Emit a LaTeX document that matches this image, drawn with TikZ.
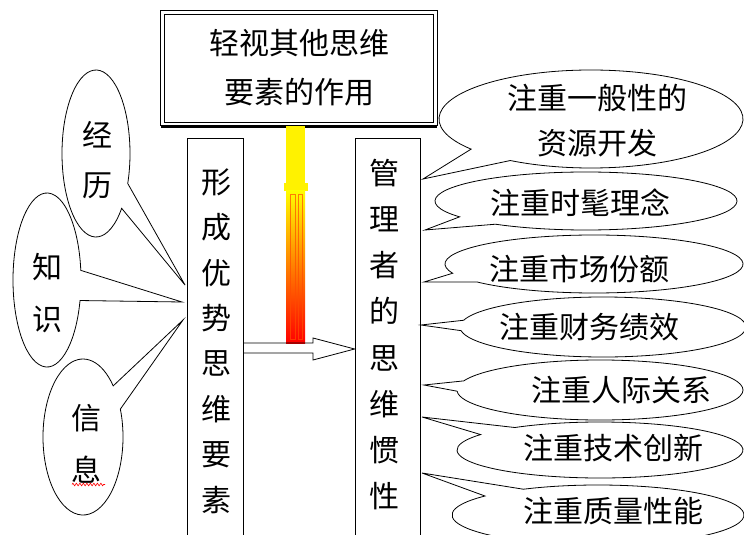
\documentclass[tikz,border=0pt]{standalone}
\usepackage{fontspec}
\newfontfamily\cjk{Noto Sans CJK SC}
\usetikzlibrary{decorations.pathmorphing}
\newcommand\wedgeoval[7]{%
  \pgfmathsetmacro\wdga{atan2((#7-#3)/#5,(#6-#2)/#4)}%
  \pgfmathsetmacro\wdgb{\wdga+10}%
  \pgfmathsetmacro\wdge{\wdga+350}%
  \coordinate (#1) at (#6,#7);
  \draw[oval] (#2,#3) ++(\wdgb:#4 and #5) arc[start angle=\wdgb, end angle=\wdge, x radius=#4, y radius=#5] -- (#1) -- cycle;
}
\begin{document}
\begin{tikzpicture}[x=1pt,y=-1pt,
  every node/.style={inner sep=0pt, font=\cjk\fontsize{30}{36}\selectfont},
  box/.style={draw, line width=0.8pt},
  oval/.style={draw, line width=0.8pt},
  vtextl/.style={align=center, font=\cjk\fontsize{30}{45.4}\selectfont},
  vtextr/.style={align=center, font=\cjk\fontsize{30}{46.1}\selectfont},
  pair/.style={align=center, font=\cjk\fontsize{30}{52}\selectfont},
  lbl/.style={align=center, font=\cjk\fontsize{30}{45}\selectfont}]
\useasboundingbox (0,0) rectangle (744,535);
\clip (0,0) rectangle (744,535);
\fill[white] (0,0) rectangle (744,535);

% top box with double border
\node[minimum width=276, minimum height=114, align=center,
      font=\cjk\fontsize{30}{49}\selectfont] (top) at (299,68) {轻视其他思维\\要素的作用};
\draw[line width=0.8pt] (top.north west) rectangle (top.south east);
\draw[line width=0.8pt] ([shift={(4,3.5)}]top.north west) rectangle ([shift={(-4,-3)}]top.south east);
\draw[line width=2.6pt] ([yshift=-1.3]top.south west) -- ([yshift=-1.3]top.south east);

% vertical boxes
\node[box, minimum width=56, minimum height=420, anchor=north] (lbox) at (215,138) {};
\node[box, minimum width=65, minimum height=420, anchor=north] (rbox) at (387.5,138) {};
\node[vtextl] (ltext) at (216,341) {形\\成\\优\\势\\思\\维\\要\\素};
\node[vtextr] (rtext) at (384,334.5) {管\\理\\者\\的\\思\\维\\惯\\性};

% glowing bar
\fill[yellow] (286,126) rectangle (305,192);
\fill[yellow] (284,183) rectangle (308,191);
\shade[top color=yellow, middle color=orange!80!yellow, bottom color=red] (286,190) rectangle (305,343);
\draw[red!70!yellow, line width=0.6pt, opacity=0.7] (290,194) rectangle (295,339);
\draw[red!70!yellow, line width=0.6pt, opacity=0.7] (298,194) rectangle (302,339);

% hollow arrow
\draw[line width=0.8pt] (lbox.east |- 0,343) -- (313,343) -- (313,338) -- (rbox.west |- 0,349)
   -- (313,360) -- (313,353) -- (lbox.east |- 0,353);

% left callouts
\wedgeoval{tipjl}{96}{153.5}{34}{83.5}{185}{285}
\wedgeoval{tipzs}{47}{280}{34}{87}{182}{302}
\wedgeoval{tipxx}{83}{437}{40}{78}{183}{320}
\node[pair, font=\cjk\fontsize{30}{50}\selectfont] (tjl) at (97,160) {经\\历};
\node[pair] (tzs) at (47,293.5) {知\\识};
\node[pair] (txx) at (86,444) {信\\息};
\draw[red, line width=0.6pt, decorate, decoration={zigzag, segment length=3.5pt, amplitude=1.3pt}] (72,484.5) -- (105,484.5);

% right callouts
\wedgeoval{tipr1}{591}{119}{152}{49}{423}{179}
\wedgeoval{tipr2}{586}{201}{151}{29}{425}{230}
\wedgeoval{tipr3}{594}{264}{149}{29}{424}{282}
\wedgeoval{tipr4}{603}{327}{143}{30}{421}{325}
\wedgeoval{tipr5}{600}{390}{143}{30}{424}{385}
\wedgeoval{tipr6}{600}{450}{143}{28}{422}{417}
\wedgeoval{tipr7}{598}{515}{146}{30}{422}{473}
\node[lbl] (r1) at (597,120.5) {注重一般性的\\资源开发};
\node (r2) at (580,203) {注重时髦理念};
\node (r3) at (579,269) {注重市场份额};
\node (r4) at (589,327) {注重财务绩效};
\node (r5) at (621,390) {注重人际关系};
\node (r6) at (613,448) {注重技术创新};
\node (r7) at (613,511) {注重质量性能};
\end{tikzpicture}
\end{document}
